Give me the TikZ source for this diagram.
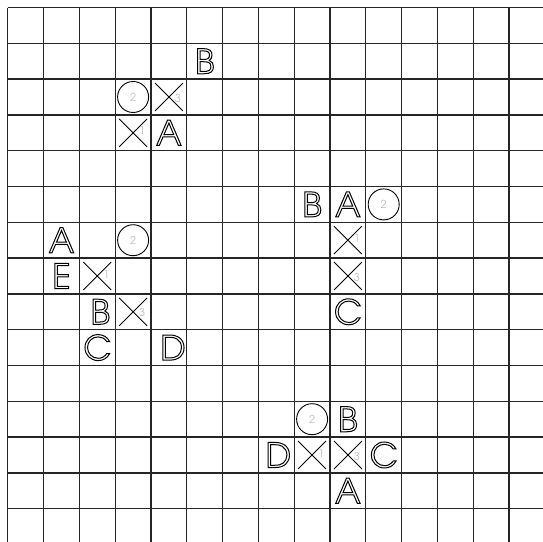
\documentclass[tikz,border=0pt]{standalone}
\usepackage{fontspec}
\usetikzlibrary{shapes.misc}

\newfontfamily\gofont{texgyreadventor-regular.otf}
\newcommand{\hollow}[1]{\special{pdf:literal direct 1 Tr 1 w}#1\special{pdf:literal direct 0 Tr}}

\tikzset{
  gridline/.style={
    line width=1.3pt,
    black!85
  },
  letter/.style={
    font=\gofont\fontsize{34}{34}\selectfont,
    text=black,
    inner sep=0pt
  },
  stone/.style={
    circle,
    draw,
    line width=0.9pt,
    minimum size=31pt,
    inner sep=0pt,
    font=\gofont\fontsize{11}{11}\selectfont,
    text=black!25
  },
  cross/.style={
    cross out,
    draw,
    line width=0.9pt,
    minimum size=27pt,
    inner sep=0pt
  },
  num/.style={
    font=\gofont\fontsize{11}{11}\selectfont,
    text=black!25,
    inner sep=0pt
  }
}

\begin{document}
\begin{tikzpicture}[x=35.8pt, y=-35.8pt]
  \useasboundingbox (-0.218,-0.2095) rectangle (14.95,14.93);

  \foreach \i in {0,...,14} {
    \draw[gridline] (\i,0) -- (\i,14.93);
    \draw[gridline] (0,\i) -- (14.95,\i);
  }

  % top group
  \node[letter] (tb) at (5.5,1.5) {\hollow{B}};
  \node[stone] (ts) at (3.5,2.5) {2};
  \node[cross] (tx3) at (4.5,2.5) {};
  \node[num, xshift=9pt, yshift=-1pt] (tn3) at (tx3) {3};
  \node[cross] (tx1) at (3.5,3.5) {};
  \node[num, xshift=9pt, yshift=2pt] (tn1) at (tx1) {1};
  \node[letter] (ta) at (4.5,3.5) {\hollow{A}};

  % right group
  \node[letter] (rb) at (8.5,5.5) {\hollow{B}};
  \node[letter] (ra) at (9.5,5.5) {\hollow{A}};
  \node[stone] (rs) at (10.5,5.5) {2};
  \node[cross] (rx1) at (9.5,6.5) {};
  \node[num, xshift=9pt, yshift=2pt] (rn1) at (rx1) {1};
  \node[cross] (rx3) at (9.5,7.5) {};
  \node[num, xshift=9pt, yshift=-1pt] (rn3) at (rx3) {3};
  \node[letter] (rc) at (9.5,8.5) {\hollow{C}};

  % left group
  \node[letter] (la) at (1.5,6.5) {\hollow{A}};
  \node[stone] (ls) at (3.5,6.5) {2};
  \node[letter] (le) at (1.5,7.5) {\hollow{E}};
  \node[cross] (lx1) at (2.5,7.5) {};
  \node[num, xshift=9pt, yshift=2pt] (ln1) at (lx1) {1};
  \node[letter, xshift=3pt] (lb) at (2.5,8.5) {\hollow{B}};
  \node[cross] (lx3) at (3.5,8.5) {};
  \node[num, xshift=9pt, yshift=-1pt] (ln3) at (lx3) {3};
  \node[letter] (lc) at (2.5,9.5) {\hollow{C}};
  \node[letter, xshift=4pt] (ld) at (4.5,9.5) {\hollow{D}};

  % bottom group
  \node[stone] (bs) at (8.5,11.5) {2};
  \node[letter] (bb) at (9.5,11.5) {\hollow{B}};
  \node[letter, xshift=2pt] (bd) at (7.5,12.5) {\hollow{D}};
  \node[cross] (bx1) at (8.5,12.5) {};
  \node[num, xshift=9pt, yshift=2pt] (bn1) at (bx1) {1};
  \node[cross] (bx3) at (9.5,12.5) {};
  \node[num, xshift=9pt, yshift=-1pt] (bn3) at (bx3) {3};
  \node[letter] (bc) at (10.5,12.5) {\hollow{C}};
  \node[letter] (ba) at (9.5,13.5) {\hollow{A}};
\end{tikzpicture}
\end{document}
